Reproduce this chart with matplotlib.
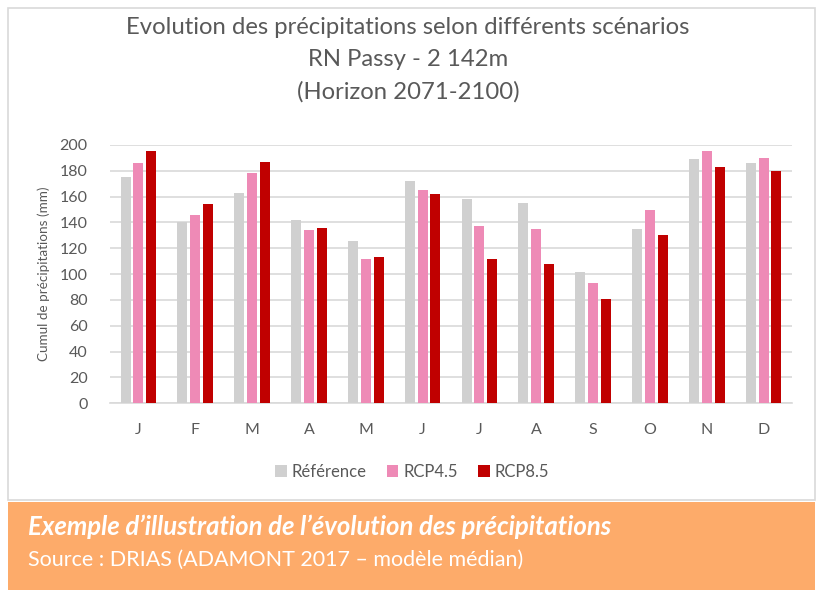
import matplotlib
matplotlib.use("Agg")
import matplotlib.pyplot as plt
import numpy as np
from matplotlib.patches import Rectangle

plt.rcParams['font.family'] = ['Lato', 'DejaVu Sans']

months = ['J', 'F', 'M', 'A', 'M', 'J', 'J', 'A', 'S', 'O', 'N', 'D']
series_names = ['Référence', 'RCP4.5', 'RCP8.5']
reference = [175, 140, 163, 142, 126, 172, 158, 155, 102, 135, 189, 186]
rcp45 = [186, 146, 178, 134, 112, 165, 137, 135, 93, 150, 195, 190]
rcp85 = [195, 154, 187, 136, 113, 162, 112, 108, 81, 130, 183, 180]
yticks = [0, 20, 40, 60, 80, 100, 120, 140, 160, 180, 200]
colors = ['#D0D0D0', '#EE8AB6', '#C00000']

title_lines = ['Evolution des précipitations selon différents scénarios',
               'RN Passy - 2 142m',
               '(Horizon 2071-2100)']
ylabel = 'Cumul de précipitations (mm)'
caption_title = 'Exemple d’illustration de l’évolution des précipitations'
caption_source = 'Source : DRIAS (ADAMONT 2017 – modèle médian)'

W, H = 821, 591
fig = plt.figure(figsize=(W / 100, H / 100), dpi=100)
fig.patch.set_facecolor('white')

# chart frame
frame = Rectangle((8 / W, 1 - 500 / H), (815 - 8) / W, (500 - 8) / H,
                  transform=fig.transFigure, facecolor='white',
                  edgecolor='#D9D9D9', linewidth=1.2, zorder=-5)
fig.patches.append(frame)
# orange banner
banner = Rectangle((8 / W, 1 - 590 / H), (815 - 8) / W, (590 - 502) / H,
                   transform=fig.transFigure, facecolor='#FDAB6A',
                   edgecolor='none', zorder=-5)
fig.patches.append(banner)

ax = fig.add_axes([110 / W, 1 - 403.3 / H, (792 - 110) / W, (403.3 - 145) / H])
ax.set_zorder(5)
ax.set_facecolor('none')
x = np.arange(len(months))
bw = 0.175
step = 0.225
data = [reference, rcp45, rcp85]
for k, (vals, c, name) in enumerate(zip(data, colors, series_names)):
    ax.bar(x + (k - 1) * step, vals, width=bw, color=c, label=name, zorder=3)

ax.set_xlim(-0.5, len(months) - 0.5)
ax.set_ylim(0, 200)
ax.set_yticks(yticks)
ax.set_xticks(x)
ax.set_xticklabels(months)
ax.yaxis.grid(True, color='#D9D9D9', linewidth=1.2, zorder=0)
ax.set_axisbelow(True)
for s in ['top', 'right', 'left']:
    ax.spines[s].set_visible(False)
ax.spines['bottom'].set_color('#D9D9D9')
ax.spines['bottom'].set_linewidth(1.2)
ax.tick_params(axis='both', length=0, colors='#595959', labelsize=11.5)
ax.tick_params(axis='x', pad=14)
ax.tick_params(axis='y', pad=16)
ax.set_ylabel(ylabel, color='#595959', fontsize=9.7, labelpad=7)

ys = [28, 59, 92]
for t, yy in zip(title_lines, ys):
    fig.text(408 / W, 1 - yy / H, t, ha='center', va='center',
             fontsize=17.2, color='#595959')

handles, labels = ax.get_legend_handles_labels()
fig.legend(handles, labels, loc='center', bbox_to_anchor=(412 / W, 1 - 472 / H),
           ncol=3, frameon=False, fontsize=12, labelcolor='#595959',
           handlelength=0.7, handleheight=0.7, handletextpad=0.3,
           columnspacing=1.2)

fig.text(28 / W, 1 - 527 / H, caption_title, ha='left', va='center',
         fontsize=18.5, color='white', fontweight='bold', fontstyle='italic')
fig.text(28 / W, 1 - 560 / H, caption_source, ha='left', va='center',
         fontsize=15.5, color='white')

fig.savefig('out.png', dpi=100)
